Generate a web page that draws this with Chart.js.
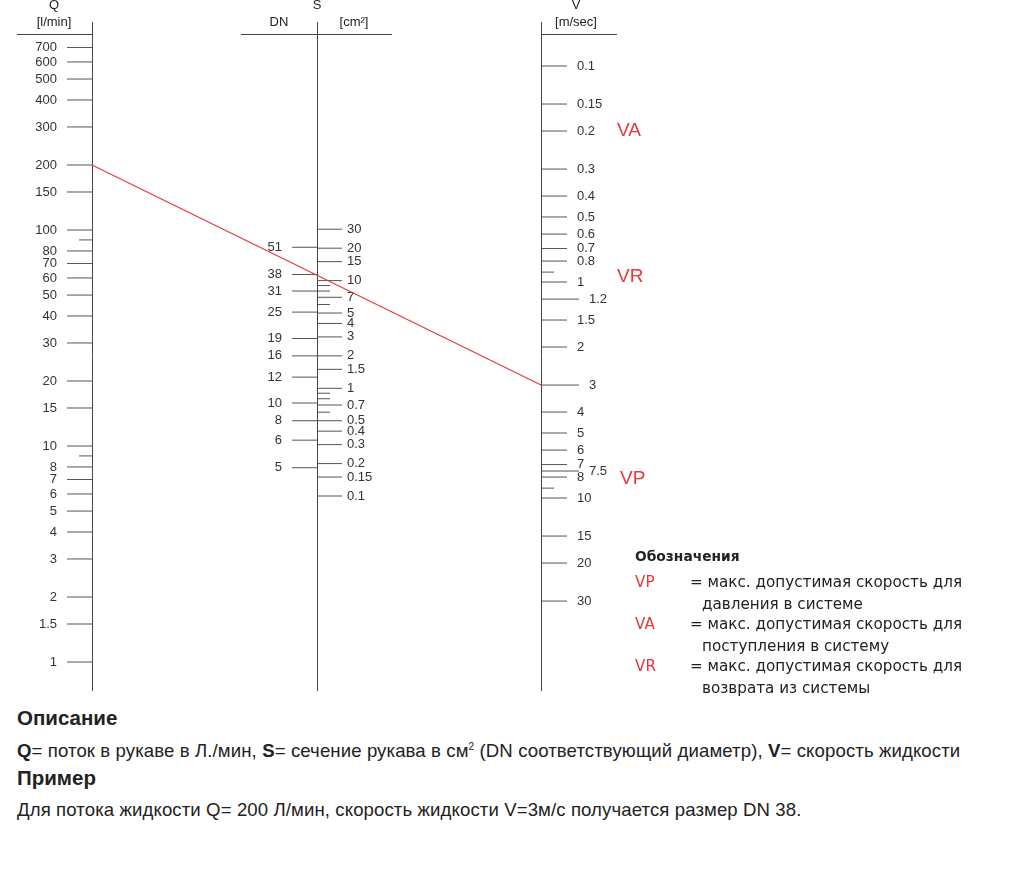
<!DOCTYPE html>
<html>
<head>
<meta charset="utf-8">
<script src="https://cdn.jsdelivr.net/npm/chart.js@4/dist/chart.umd.min.js"></script>
<style>
    body { margin: 0; background: #fff; }
    #wrap { position: relative; width: 1024px; height: 879px; }
    #nomo { position: absolute; left: 0; top: 0; }
    .leg { position: absolute; font-family: "DejaVu Sans", sans-serif; font-size: 15.2px; color: #222; line-height: 20px; white-space: nowrap; }
    .leg.r { color: #e8383d; }
    .leg.t { font-size: 13.8px; font-weight: bold; }
    .txt { position: absolute; left: 17px; font-family: "Liberation Sans", Arial, sans-serif; color: #222; white-space: nowrap; line-height: 24px; }
    .txt.h { font-size: 20.5px; font-weight: bold; }
    .txt.p { font-size: 18.6px; letter-spacing: 0.1px; }
</style>
</head>
<body>
<div id="wrap">
    <canvas id="nomo" width="1024" height="700"></canvas>

    <div class="leg t" style="left:635px; top:546px;">Обозначения</div>
    <div class="leg r" style="left:635px; top:572px;">VP</div>
    <div class="leg" style="left:690px; top:572px;">= макс. допустимая скорость для</div>
    <div class="leg" style="left:702px; top:594px;">давления в системе</div>
    <div class="leg r" style="left:635px; top:614px;">VA</div>
    <div class="leg" style="left:690px; top:614px;">= макс. допустимая скорость для</div>
    <div class="leg" style="left:702px; top:636px;">поступления в систему</div>
    <div class="leg r" style="left:635px; top:656px;">VR</div>
    <div class="leg" style="left:690px; top:656px;">= макс. допустимая скорость для</div>
    <div class="leg" style="left:702px; top:678px;">возврата из системы</div>

    <div class="txt h" style="top:706px;">Описание</div>
    <div class="txt p" style="top:735px;"><b>Q</b>= поток в рукаве в Л./мин, <b>S</b>= сечение рукава в см<sup style="font-size:10px">2</sup> (DN соответствующий диаметр), <b>V</b>= скорость жидкости</div>
    <div class="txt h" style="top:766px;">Пример</div>
    <div class="txt p" style="top:798px;">Для потока жидкости Q= 200 Л/мин, скорость жидкости V=3м/с получается размер DN 38.</div>
</div>

<script>
// Q scale [l/min]
const qTicks = [700, 600, 500, 400, 300, 200, 150, 100, 80, 70, 60, 50, 40, 30, 20, 15, 10, 8, 7, 6, 5, 4, 3, 2, 1.5, 1];
const qMinor = [90, 9];
// S scale [cm2], right side
const sTicks = [30, 20, 15, 10, 7, 5, 4, 3, 2, 1.5, 1, 0.7, 0.5, 0.4, 0.3, 0.2, 0.15, 0.1];
const sMinor = [9, 8, 6, 0.9, 0.8, 0.6];
// DN marks on the left side of S, placed at their section value
const dnLabels = [51, 38, 31, 25, 19, 16, 12, 10, 8, 6, 5];
const dnArea = [20.4, 11.4, 8.0, 5.1, 2.9, 2.0, 1.27, 0.73, 0.5, 0.33, 0.183];
// V scale [m/sec]
const vTicks = [0.1, 0.15, 0.2, 0.3, 0.4, 0.5, 0.6, 0.7, 0.8, 1, 1.2, 1.5, 2, 3, 4, 5, 6, 7, 7.5, 8, 10, 15, 20, 30];
const vLong = [1.2, 3, 7.5];
const vMinor = [0.9, 9];
// zones
const zoneNames = ['VA', 'VR', 'VP'];
const zoneV = [0.2, 0.95, 8.15];
// example
const exampleQ = 200;
const exampleV = 3;

// axis ranges (what the plot height covers)
const qRange = [0.66725, 1161.1];
const sRange = [0.0012762, 4031];
const vRange = [0.049484, 86.12];

// layout
const AX = { q: 92, s: 317, v: 541 };
const RED = '#e8383d';
const TICK = '#555';
const FONT = '13px "Liberation Sans", Arial, sans-serif';

function segs(x0, x1, values) {
    let pts = [];
    values.forEach(function (v) {
        pts.push({ x: x0, y: v }, { x: x1, y: v }, { x: x1, y: null });
    });
    return pts;
}

function tickSet(data, axis) {
    return {
        data: data,
        yAxisID: axis,
        borderColor: TICK,
        borderWidth: 1,
        pointRadius: 0,
        spanGaps: false,
        tension: 0
    };
}

let vShort = vTicks.filter(function (v) { return vLong.indexOf(v) < 0; });

let datasets = [
    tickSet(segs(AX.q - 25, AX.q, qTicks), 'yQ'),
    tickSet(segs(AX.q - 13, AX.q, qMinor), 'yQ'),
    tickSet(segs(AX.s, AX.s + 25, sTicks), 'yS'),
    tickSet(segs(AX.s, AX.s + 13, sMinor), 'yS'),
    tickSet(segs(AX.s - 25, AX.s, dnArea), 'yS'),
    tickSet(segs(AX.v, AX.v + 26, vShort), 'yV'),
    tickSet(segs(AX.v, AX.v + 38, vLong), 'yV'),
    tickSet(segs(AX.v, AX.v + 13, vMinor), 'yV')
];

// axis lines, headers, labels and the example line
const nomoPlugin = {
    id: 'nomo',
    afterDatasetsDraw: function (chart) {
        let ctx = chart.ctx;
        let x = chart.scales.x;
        let yQ = chart.scales.yQ, yS = chart.scales.yS, yV = chart.scales.yV;
        ctx.save();

        // vertical axes + header rules
        ctx.strokeStyle = '#444';
        ctx.lineWidth = 1;
        [AX.q, AX.s, AX.v].forEach(function (ax) {
            let px = Math.round(x.getPixelForValue(ax)) + 0.5;
            ctx.beginPath();
            ctx.moveTo(px, 22);
            ctx.lineTo(px, 691);
            ctx.stroke();
        });
        ctx.beginPath();
        ctx.moveTo(17, 34.5); ctx.lineTo(AX.q, 34.5);
        ctx.moveTo(241, 34.5); ctx.lineTo(392, 34.5);
        ctx.moveTo(AX.v, 34.5); ctx.lineTo(617, 34.5);
        ctx.stroke();

        // headers
        ctx.fillStyle = '#222';
        ctx.font = FONT;
        ctx.textBaseline = 'middle';
        ctx.textAlign = 'center';
        ctx.fillText('Q', 54, 5);
        ctx.fillText('[l/min]', 54, 22);
        ctx.fillText('S', AX.s, 5);
        ctx.fillText('DN', 279, 22);
        ctx.fillText('[cm²]', 354, 22);
        ctx.fillText('V', 576, 5);
        ctx.fillText('[m/sec]', 576, 22);

        // tick labels
        ctx.fillStyle = '#333';
        ctx.textAlign = 'right';
        qTicks.forEach(function (v) { ctx.fillText(String(v), 57, yQ.getPixelForValue(v)); });
        dnLabels.forEach(function (d, i) { ctx.fillText(String(d), 282, yS.getPixelForValue(dnArea[i])); });
        ctx.textAlign = 'left';
        sTicks.forEach(function (v) { ctx.fillText(String(v), 347, yS.getPixelForValue(v)); });
        vTicks.forEach(function (v) {
            let lx = vLong.indexOf(v) >= 0 ? 589 : 577;
            ctx.fillText(String(v), lx, yV.getPixelForValue(v));
        });

        // zone marks
        ctx.fillStyle = RED;
        ctx.font = '19px "Liberation Sans", Arial, sans-serif';
        zoneNames.forEach(function (n, i) {
            ctx.fillText(n, n === 'VP' ? 620 : 617, yV.getPixelForValue(zoneV[i]));
        });

        // example line Q -> V
        ctx.strokeStyle = RED;
        ctx.lineWidth = 1.2;
        ctx.beginPath();
        ctx.moveTo(x.getPixelForValue(AX.q), yQ.getPixelForValue(exampleQ));
        ctx.lineTo(x.getPixelForValue(AX.v), yV.getPixelForValue(exampleV));
        ctx.stroke();

        ctx.restore();
    }
};

new Chart(document.getElementById('nomo'), {
    type: 'line',
    data: { datasets: datasets },
    options: {
        responsive: false,
        animation: false,
        events: [],
        layout: { padding: 0 },
        plugins: {
            legend: { display: false },
            tooltip: { enabled: false }
        },
        scales: {
            x: { type: 'linear', min: 0, max: 1024, display: false },
            yQ: { type: 'logarithmic', position: 'left', min: qRange[0], max: qRange[1], bounds: 'data', display: false },
            yS: { type: 'logarithmic', position: 'left', min: sRange[0], max: sRange[1], bounds: 'data', display: false },
            yV: { type: 'logarithmic', position: 'right', min: vRange[0], max: vRange[1], bounds: 'data', reverse: true, display: false }
        }
    },
    plugins: [nomoPlugin]
});
</script>
</body>
</html>
